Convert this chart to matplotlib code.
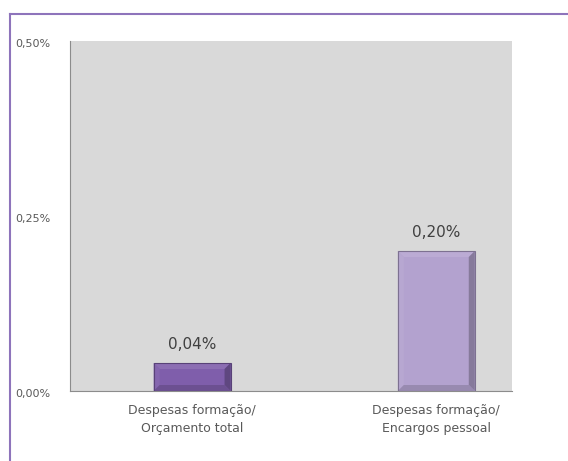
import matplotlib.pyplot as plt
from matplotlib.patches import Polygon
from matplotlib.lines import Line2D
from matplotlib.colors import to_rgb
from matplotlib.transforms import blended_transform_factory, ScaledTranslation

# indicator labels and values (in %)
categories = ["Despesas formação/\nOrçamento total", "Despesas formação/\nEncargos pessoal"]
values = [0.04, 0.20]
value_labels = ["0,04%", "0,20%"]
bar_colors = ["#7f5eab", "#b3a2cf"]
yticks = [0.0, 0.25, 0.50]
ytick_labels = ["0,00%", "0,25%", "0,50%"]

fig = plt.figure(figsize=(5.68, 4.61), dpi=100)
ax = fig.add_axes([70 / 568, 70 / 461, 442 / 568, 350 / 461])
ax.set_facecolor("#d9d9d9")

x = range(len(values))
bars = ax.bar(x, values, width=0.315, color=bar_colors, zorder=2)

ax.set_ylim(0, 0.5)
ax.set_xlim(-0.5, 1.31)
ax.set_yticks(yticks)
ax.set_yticklabels([])
ax.set_xticks(list(x))
ax.set_xticklabels(categories, fontsize=9, color="#595959", linespacing=1.5)
ax.tick_params(axis="both", length=0, pad=9)
for s in ["top", "right"]:
    ax.spines[s].set_visible(False)
ax.spines["left"].set_color("#8c8c8c")
ax.spines["bottom"].set_color("#8c8c8c")

# y labels sit near the left edge of the frame, a little below each level
ylab_tr = blended_transform_factory(fig.transFigure, ax.transData) + \
    ScaledTranslation(0, -3 / 100, fig.dpi_scale_trans)
for t, lab in zip(yticks, ytick_labels):
    ax.text(15 / 568, t, lab, transform=ylab_tr, fontsize=8, color="#595959",
            va="center", ha="left")

# value labels above the bars
for b, lab in zip(bars, value_labels):
    ax.annotate(lab, (b.get_x() + b.get_width() / 2, b.get_height()),
                xytext=(0, 8), textcoords="offset points",
                ha="center", va="bottom", fontsize=11, color="#404040")

# bevelled edges on each bar
fig.canvas.draw()
bev = 6


def shade(c, f):
    r, g, b = to_rgb(c)
    if f > 0:
        return (r + (1 - r) * f, g + (1 - g) * f, b + (1 - b) * f)
    return (r * (1 + f), g * (1 + f), b * (1 + f))


for b, c in zip(bars, bar_colors):
    (x0, y0), (x1, y1) = ax.transData.transform([(b.get_x(), 0), (b.get_x() + b.get_width(), b.get_height())])
    d = min(bev, (y1 - y0) / 3)
    faces = [
        ([(x0, y1), (x1, y1), (x1 - d, y1 - d), (x0 + d, y1 - d)], 0.1),
        ([(x0, y0), (x0, y1), (x0 + d, y1 - d), (x0 + d, y0 + d)], 0.05),
        ([(x1, y0), (x1, y1), (x1 - d, y1 - d), (x1 - d, y0 + d)], -0.25),
        ([(x0, y0), (x1, y0), (x1 - d, y0 + d), (x0 + d, y0 + d)], -0.15),
    ]
    for pts, f in faces:
        ax.add_patch(Polygon(pts, closed=True, transform=None, facecolor=shade(c, f),
                             edgecolor="none", zorder=3))
    ax.add_patch(Polygon([(x0, y0), (x1, y0), (x1, y1), (x0, y1)], closed=True, transform=None,
                         facecolor="none", edgecolor=shade(c, -0.3), lw=0.8, zorder=4))

# purple frame along top and left
fig.add_artist(Line2D([10 / 568, 10 / 568], [0, 1 - 14 / 461], transform=fig.transFigure,
                      color="#8e74bb", lw=1.5))
fig.add_artist(Line2D([10 / 568, 1], [1 - 14 / 461, 1 - 14 / 461], transform=fig.transFigure,
                      color="#8e74bb", lw=1.5))

fig.savefig("out.png", dpi=100, facecolor="white")
